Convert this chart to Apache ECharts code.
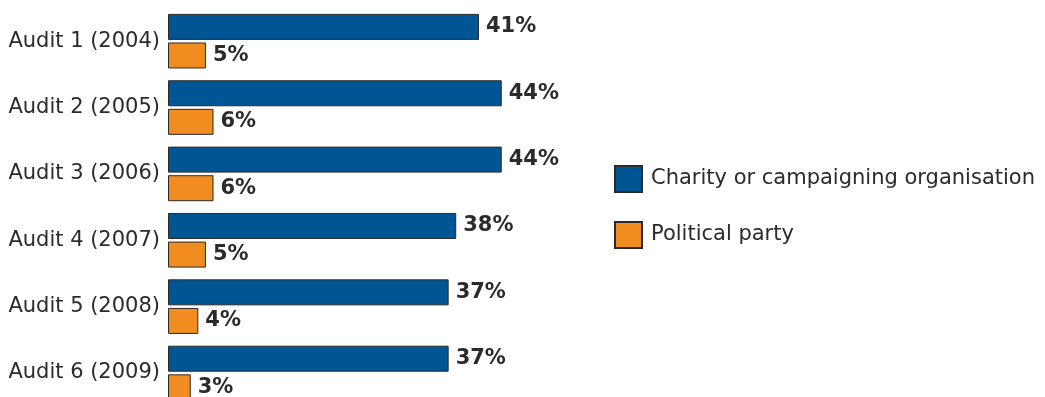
<!DOCTYPE html>
<html>
<head>
<meta charset="utf-8">
<script src="https://cdn.jsdelivr.net/npm/echarts@6/dist/echarts.min.js"></script>
<style>
  html, body { margin: 0; padding: 0; background: #fff; }
  #chart { width: 1045px; height: 397px; }
</style>
</head>
<body>
<div id="chart"></div>
<script>
// Survey rounds and the share reporting each type of involvement (%)
const audits = ['Audit 1 (2004)', 'Audit 2 (2005)', 'Audit 3 (2006)', 'Audit 4 (2007)', 'Audit 5 (2008)', 'Audit 6 (2009)'];
const charity = [41, 44, 44, 38, 37, 37];
const party = [5, 6, 6, 5, 4, 3];
const seriesNames = ['Charity or campaigning organisation', 'Political party'];

const FONT = '"DejaVu Sans", "Noto Sans", sans-serif';
const TEXT = '#2b2b2b';

const chart = echarts.init(document.getElementById('chart'), null, { renderer: 'canvas' });

const labelStyle = {
  show: true,
  position: 'right',
  distance: 7,
  formatter: p => p.value + '%',
  fontFamily: FONT,
  fontWeight: 'bold',
  fontSize: 21,
  color: TEXT
};

chart.setOption({
  animation: false,
  legend: {
    orient: 'vertical',
    left: 614,
    top: 165,
    padding: 0,
    itemWidth: 27,
    itemHeight: 26,
    itemGap: 28,
    icon: 'rect',
    selectedMode: false,
    textStyle: { fontFamily: FONT, fontSize: 21, color: TEXT, padding: [0, 0, 0, 4] },
    data: seriesNames
  },
  // the plot runs a little past the bottom edge, so the last bar is cut off
  grid: { left: 168, top: 8, width: 758.5, height: 398.2, containLabel: false, outerBoundsMode: 'none' },
  xAxis: {
    type: 'value',
    min: 0,
    max: 100,
    show: false
  },
  yAxis: {
    type: 'category',
    inverse: true,
    data: audits,
    axisLine: { show: false },
    axisTick: { show: false },
    axisLabel: { margin: 8, fontFamily: FONT, fontSize: 21, color: TEXT }
  },
  series: [
    {
      name: seriesNames[0],
      type: 'bar',
      data: charity,
      barWidth: 26,
      barGap: '10%',
      itemStyle: { color: '#005595', borderColor: '#2a2a2a', borderWidth: 1 },
      label: labelStyle
    },
    {
      name: seriesNames[1],
      type: 'bar',
      data: party,
      barWidth: 26,
      itemStyle: { color: '#f08c20', borderColor: '#2a2a2a', borderWidth: 1 },
      label: labelStyle
    }
  ]
});
</script>
</body>
</html>
